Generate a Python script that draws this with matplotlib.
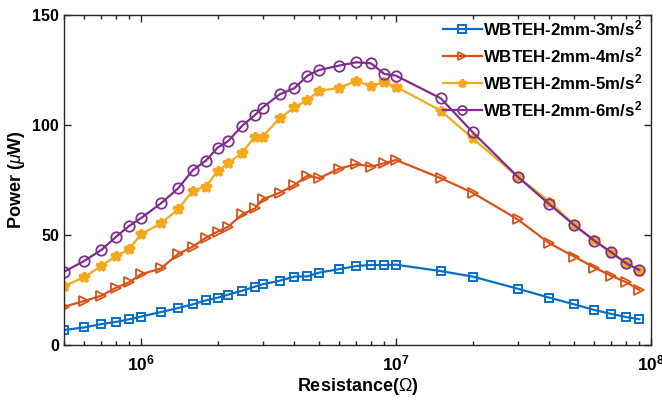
import matplotlib
matplotlib.use("Agg")
import matplotlib.pyplot as plt
from matplotlib.ticker import LogLocator, NullFormatter, FixedLocator, FuncFormatter
import numpy as np

plt.rcParams['font.family'] = ['Liberation Sans', 'DejaVu Sans']
plt.rcParams['mathtext.fontset'] = 'custom'
plt.rcParams['mathtext.rm'] = 'Liberation Sans'
plt.rcParams['mathtext.bf'] = 'Liberation Sans:bold'
plt.rcParams['mathtext.it'] = 'Liberation Sans:italic'

# Load resistance (ohm)
resistance = [5e5, 6e5, 7e5, 8e5, 9e5, 1e6, 1.2e6, 1.4e6, 1.6e6, 1.8e6, 2e6,
              2.2e6, 2.5e6, 2.8e6, 3e6, 3.5e6, 4e6, 4.5e6, 5e6, 6e6, 7e6, 8e6,
              9e6, 1e7, 1.5e7, 2e7, 3e7, 4e7, 5e7, 6e7, 7e7, 8e7, 9e7]

# Output power (uW) for each excitation level
power_3 = [6.8, 8.0, 9.5, 10.5, 11.7, 12.9, 15.0, 16.8, 18.5, 20.3, 21.5,
           22.9, 24.7, 26.5, 27.6, 29.2, 31.1, 31.2, 32.9, 34.5, 35.9, 36.4,
           36.3, 36.5, 33.6, 31.1, 25.6, 21.5, 18.5, 15.9, 14.1, 12.7, 11.7]
power_4 = [17.4, 20.0, 22.4, 26.1, 28.5, 32.1, 34.8, 41.4, 44.7, 48.8, 51.5,
           53.8, 59.4, 62.1, 66.2, 69.2, 72.7, 77.0, 75.8, 80.2, 82.2, 81.1,
           82.6, 84.1, 75.8, 69.2, 57.1, 46.2, 40.2, 35.2, 31.4, 28.5, 25.0]
power_5 = [26.8, 30.8, 35.9, 40.5, 43.5, 50.3, 55.3, 61.7, 70.2, 72.0, 79.1,
           82.6, 87.4, 94.7, 94.7, 103.0, 108.0, 111.4, 115.5, 116.8, 120.1,
           117.7, 119.4, 117.4, 106.5, 93.9, 76.5, 65.2, 54.5, 47.7, 41.7,
           37.4, 33.8]
power_6 = [33.3, 38.2, 43.2, 49.2, 54.1, 57.6, 64.4, 71.2, 79.5, 83.8, 89.7,
           92.7, 99.7, 104.5, 107.9, 113.9, 116.7, 122.4, 125.0, 127.0, 128.5,
           128.0, 123.2, 122.4, 112.1, 96.7, 76.5, 63.9, 54.5, 47.4, 42.1,
           37.1, 34.1]

labels = [r'WBTEH-2mm-3m/s$^{\mathbf{2}}$', r'WBTEH-2mm-4m/s$^{\mathbf{2}}$',
          r'WBTEH-2mm-5m/s$^{\mathbf{2}}$', r'WBTEH-2mm-6m/s$^{\mathbf{2}}$']

fig = plt.figure(figsize=(6.62, 4.04), dpi=100)
ax = fig.add_axes([0.0967, 0.146, 0.8867, 0.817])

ax.plot(resistance, power_3, color='#0a6fc4', lw=1.6, marker='s', ms=6,
        mfc='none', mew=1.4, label=labels[0])
ax.plot(resistance, power_4, color='#D95319', lw=1.6, marker='>', ms=7.5,
        mfc='none', mew=1.3, label=labels[1])
ax.plot(resistance, power_5, color='#F5A81C', lw=1.6, marker='*', ms=7,
        mew=2.4, label=labels[2])
ax.plot(resistance, power_6, color='#7E2F8E', lw=1.6, marker='o', ms=7.5,
        mfc='none', mew=1.3, label=labels[3])

ax.set_xscale('log')
ax.set_xlim(5e5, 1e8)
ax.set_ylim(0, 150)
ax.yaxis.set_major_locator(FixedLocator([0, 50, 100, 150]))
ax.xaxis.set_major_locator(FixedLocator([1e6, 1e7, 1e8]))
ax.xaxis.set_major_formatter(FuncFormatter(
    lambda v, pos: r'$\mathbf{10^{%d}}$' % int(round(np.log10(v)))))
ax.xaxis.set_minor_locator(LogLocator(base=10, subs=range(2, 10), numticks=20))
ax.xaxis.set_minor_formatter(NullFormatter())

ax.tick_params(which='both', direction='in', top=True, right=True,
               width=1.0, colors='#262626', labelcolor='black')
ax.tick_params(axis='y', labelsize=11.5)
ax.tick_params(axis='x', labelsize=12.5, pad=6)
ax.tick_params(which='major', length=5)
ax.tick_params(which='minor', length=3)
for lab in ax.get_xticklabels() + ax.get_yticklabels():
    lab.set_fontweight('bold')
for sp in ax.spines.values():
    sp.set_linewidth(1.0)
    sp.set_color('#262626')

ax.set_xlabel(r'Resistance($\Omega$)', fontsize=13, fontweight='bold', labelpad=2)
ax.set_ylabel(r'Power ($\mu$W)', fontsize=13, fontweight='bold', labelpad=4)

leg = ax.legend(loc='upper right', bbox_to_anchor=(1.0, 1.015), frameon=False,
                handlelength=2.3, handletextpad=0.1, labelspacing=0.42,
                borderaxespad=0.1, markerscale=0.85,
                prop={'weight': 'bold', 'size': 12.2})

fig.savefig('out.png', dpi=100)
